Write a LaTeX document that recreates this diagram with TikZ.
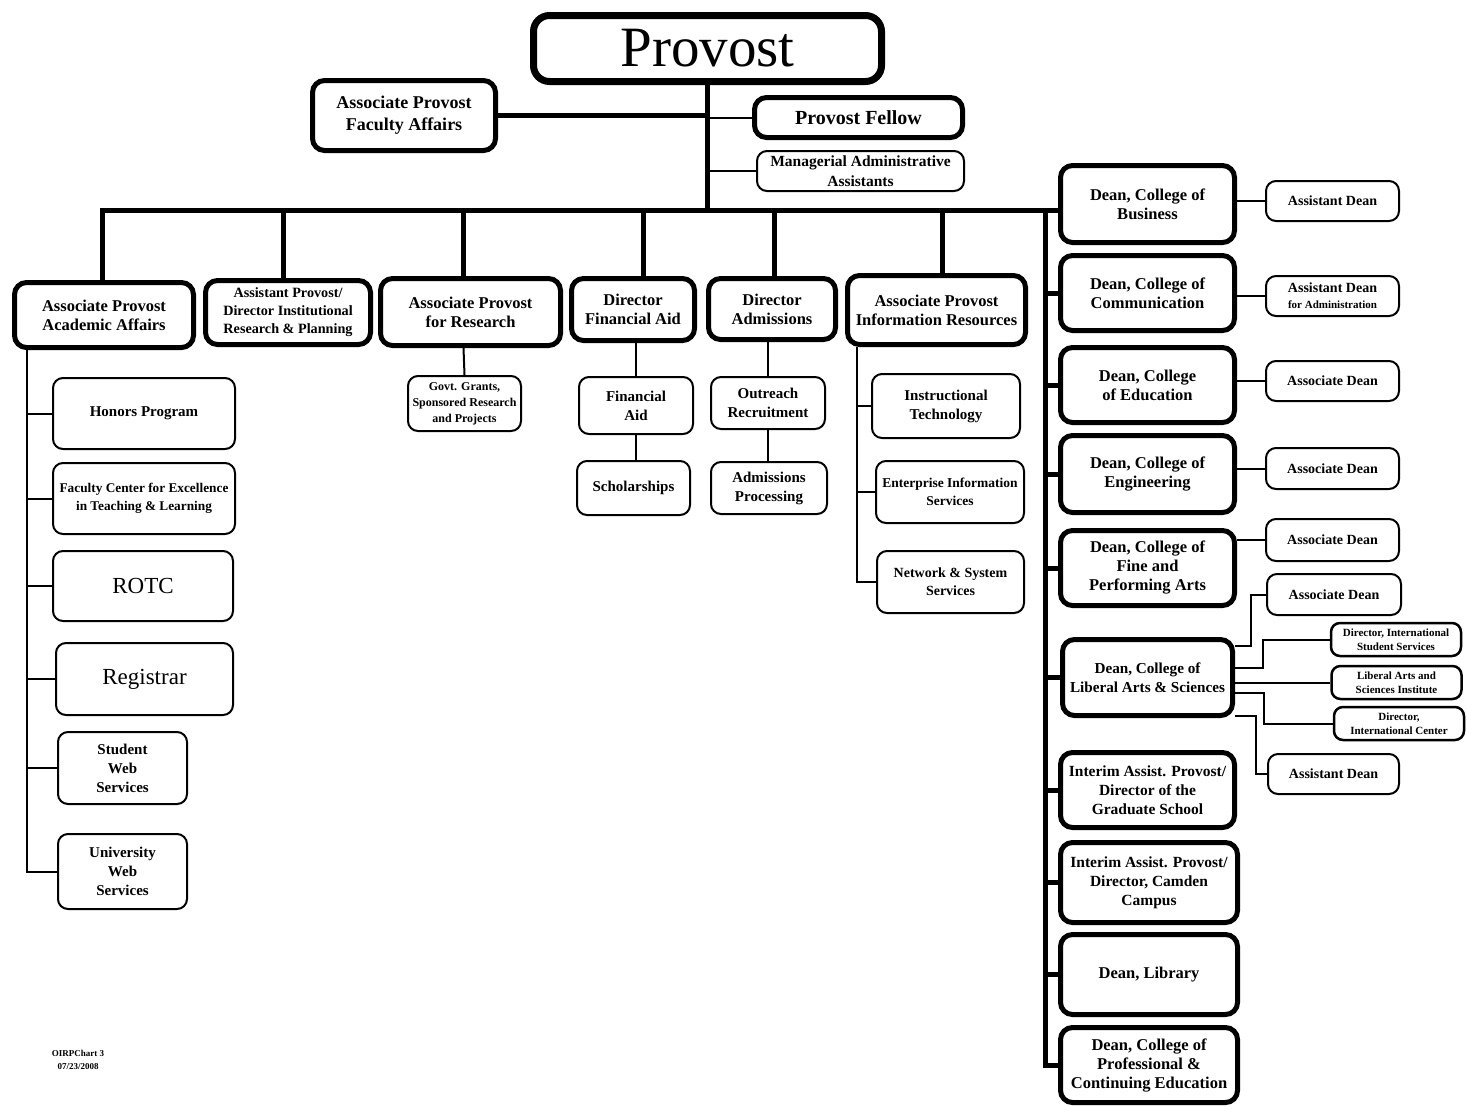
\documentclass[tikz,border=0pt]{standalone}
\usepackage{fontspec}
\setmainfont{Liberation Serif}
\begin{document}
\begin{tikzpicture}[x = 1pt, y = -1pt,
		bigbox/.style = {draw, line width = 5pt, rounded corners = 12pt, align = center, inner sep = 0pt, font = \fontsize{16.5}{19}\selectfont\bfseries},
		smallbox/.style = {draw, line width = 2pt, rounded corners = 10pt, align = center, inner sep = 0pt, font = \fontsize{15}{19}\selectfont\bfseries},
		deanbox/.style = {smallbox, font = \fontsize{14}{19}\selectfont\bfseries},
		tinybox/.style = {smallbox, line width = 2.5pt, rounded corners = 9pt, font = \fontsize{11}{14}\selectfont\bfseries},
		wh/.style 2 args = {minimum width = #1pt, minimum height = #2pt},
		thickline/.style = {line width = 5pt},
		thinline/.style = {line width = 2pt}]
	\useasboundingbox (0,0) rectangle (1467,1109);
	% top of the chart
	\node[bigbox, wh = {348}{66}, line width = 7pt, rounded corners = 16pt, font = \fontsize{57}{60}\selectfont] (prov) at (707.5,48.5) {Provost};
	\node[bigbox, wh = {183}{70}, font = \fontsize{18}{22}\selectfont\bfseries] (fac) at (404,115.5) {Associate Provost\\Faculty Affairs};
	\node[bigbox, wh = {208}{40}, font = \fontsize{20}{22}\selectfont\bfseries] (fel) at (858.5,117.5) {Provost Fellow};
	\node[smallbox, wh = {207}{40}, font = \fontsize{15.5}{20}\selectfont\bfseries] (mgr) at (860.5,171) {Managerial Administrative\\Assistants};
	\coordinate (barL) at (100,210);
	\coordinate (barR) at (1045,210);
	\draw[thickline] (prov.south) -- (prov.south |- barL); %trunk
	\draw[thickline] (fac.east) -- (fac.east -| prov.south);
	\draw[thinline] (fel.west) -- (fel.west -| prov.south);
	\draw[thinline] (mgr.west) -- (mgr.west -| prov.south);
	% second row
	\node[bigbox, wh = {179}{65}] (acad) at (104,315) {Associate Provost\\Academic Affairs};
	\node[bigbox, wh = {165}{64}, font = \fontsize{14.2}{18}\selectfont\bfseries] (inst) at (288,312.5) {Assistant Provost/\\Director Institutional\\Research \& Planning};
	\node[bigbox, wh = {180}{67}] (res) at (470.5,312) {Associate Provost\\for Research};
	\node[bigbox, wh = {123}{62}] (fin) at (633,309.5) {Director\\Financial Aid};
	\node[bigbox, wh = {127}{61}] (adm) at (772,309) {Director\\Admissions};
	\node[bigbox, wh = {178}{69}] (info) at (936.5,310) {Associate Provost\\Information Resources};
	% deans
	\node[bigbox, wh = {174}{77}] (bus) at (1147.5,204) {Dean, College of\\Business};
	\node[bigbox, wh = {174}{75}] (com) at (1147.5,293) {Dean, College of\\Communication};
	\node[bigbox, wh = {174}{75}] (edu) at (1147.5,385) {Dean, College\\of Education};
	\node[bigbox, wh = {174}{77}] (eng) at (1147.5,474) {Dean, College of\\Engineering};
	\node[bigbox, wh = {174}{75}] (fpa) at (1147.5,568) {Dean, College of\\Fine and\\Performing Arts};
	\node[bigbox, wh = {170}{76}, font = \fontsize{15.2}{19}\selectfont\bfseries] (las) at (1147.5,677.5) {Dean, College of\\Liberal Arts \& Sciences};
	\node[bigbox, wh = {174}{75}, font = \fontsize{15.5}{19}\selectfont\bfseries] (grad) at (1147.5,790) {Interim Assist. Provost/\\Director of the\\Graduate School};
	\node[bigbox, wh = {177}{80}, font = \fontsize{15.5}{19}\selectfont\bfseries] (cam) at (1149,882.5) {Interim Assist. Provost/\\Director, Camden\\Campus};
	\node[bigbox, wh = {177}{80}] (lib) at (1149,974.5) {Dean, Library};
	\node[bigbox, wh = {177}{75}] (pce) at (1149,1065) {Dean, College of\\Professional \&\\Continuing Education};
	\draw[thickline] (barL) -- (barL -| bus.west); %bar
	\draw[thickline] (barR) |- (pce.west); %spine
	\foreach \n in {com, edu, eng, fpa, las, grad, cam, lib}
		\draw[thickline] (\n.west) -- (\n.west -| barR);
	\foreach \n/\s in {acad/-2, inst/-5, res/-7, fin/10, adm/2, info/6}
		\draw[thickline] ([xshift = \s pt]\n.north) -- ([xshift = \s pt]\n.north |- barL);
	% academic affairs
	\node[smallbox, wh = {182}{71}] (hon) at (144,413.5) {Honors Program};
	\node[smallbox, wh = {182}{71}, font = \fontsize{13.3}{18}\selectfont\bfseries] (fce) at (144,498.5) {Faculty Center for Excellence\\in Teaching \& Learning};
	\node[smallbox, wh = {180}{70}, font = \fontsize{23}{26}\selectfont] (rotc) at (143,586) {ROTC};
	\node[smallbox, wh = {177}{72}, font = \fontsize{23}{26}\selectfont] (reg) at (144.5,679) {Registrar};
	\node[smallbox, wh = {129}{72}] (sws) at (122.5,768) {Student\\Web\\Services};
	\node[smallbox, wh = {129}{75}] (uws) at (122.5,871.5) {University\\Web\\Services};
	\coordinate (aa) at ([xshift = 15pt]acad.south west);
	\draw[thinline] (aa) |- (uws.west);
	\foreach \n in {hon, fce, rotc, reg, sws}
		\draw[thinline] (\n.west) -- (\n.west -| aa);
	% research, aid, admissions
	\node[smallbox, wh = {113}{55}, font = \fontsize{12}{16}\selectfont\bfseries] (gov) at (464.5,403.5) {Govt. Grants,\\Sponsored Research\\and Projects};
	\node[smallbox, wh = {114}{57}] (fa) at (636,405.5) {Financial\\Aid};
	\node[smallbox, wh = {113}{54}] (sch) at (633.5,488) {Scholarships};
	\node[smallbox, wh = {114}{52}] (orr) at (768,403) {Outreach\\Recruitment};
	\node[smallbox, wh = {116}{52}] (ap) at (769,488) {Admissions\\Processing};
	\draw[thinline] ([xshift = -7pt]res.south) -- (gov.north);
	\draw[thinline] (fa.north) -- (fa.north |- fin.south);
	\draw[thinline] (fa.south) -- (fa.south |- sch.north);
	\draw[thinline] (orr.north) -- (orr.north |- adm.south);
	\draw[thinline] (orr.south) -- (orr.south |- ap.north);
	% information resources
	\node[smallbox, wh = {148}{64}] (it) at (946,406) {Instructional\\Technology};
	\node[smallbox, wh = {148}{62}, font = \fontsize{13.5}{18}\selectfont\bfseries] (eis) at (950,492) {Enterprise Information\\Services};
	\node[smallbox, wh = {147}{62}, font = \fontsize{14}{18}\selectfont\bfseries] (nss) at (950.5,582) {Network \& System\\Services};
	\coordinate (ir) at ([xshift = 12pt]info.south west);
	\draw[thinline] (ir) |- (nss.west);
	\foreach \n in {it, eis}
		\draw[thinline] (\n.west) -- (\n.west -| ir);
	% under the deans
	\node[deanbox, wh = {133}{40}] (ad1) at (1332.5,201) {Assistant Dean};
	\node[deanbox, wh = {133}{40}] (ad2) at (1332.5,296) {Assistant Dean\\[-3pt]{\fontsize{11}{13}\selectfont for Administration}};
	\node[deanbox, wh = {133}{40}] (ad3) at (1332.5,381) {Associate Dean};
	\node[deanbox, wh = {133}{41}] (ad4) at (1332.5,468.5) {Associate Dean};
	\node[deanbox, wh = {133}{42}] (ad5) at (1332.5,540) {Associate Dean};
	\node[deanbox, wh = {134}{41}] (ad6) at (1334,594.5) {Associate Dean};
	\node[tinybox, wh = {130}{33}] (dis) at (1396,639.5) {Director, International\\Student Services};
	\node[tinybox, wh = {130}{33}] (lasi) at (1396.5,682.5) {Liberal Arts and\\Sciences Institute};
	\node[tinybox, wh = {130}{33}] (dic) at (1399,723.5) {Director,\\International Center};
	\node[deanbox, wh = {131}{40}] (ad7) at (1333.5,774) {Assistant Dean};
	\foreach \d/\a in {bus/ad1, com/ad2, edu/ad3, eng/ad4, fpa/ad5}
		\draw[thinline] (\a.west -| \d.east) -- (\a.west);
	\draw[thinline] ([yshift = 32pt]las.east) -- ++(16,0) |- (ad6.west);
	\draw[thinline] ([yshift = 10pt]las.east) -- ++(28,0) |- (dis.west);
	\draw[thinline] (lasi.west -| las.east) -- (lasi.west);
	\draw[thinline] ([yshift = -15pt]las.east) -- ++(29,0) |- (dic.west);
	\draw[thinline] ([yshift = -38pt]las.east) -- ++(21,0) |- (ad7.west);
	\node[align = center, font = \fontsize{9}{13}\selectfont\bfseries] (note) at (78,1060) {OIRPChart 3\\07/23/2008};
\end{tikzpicture}
\end{document}
